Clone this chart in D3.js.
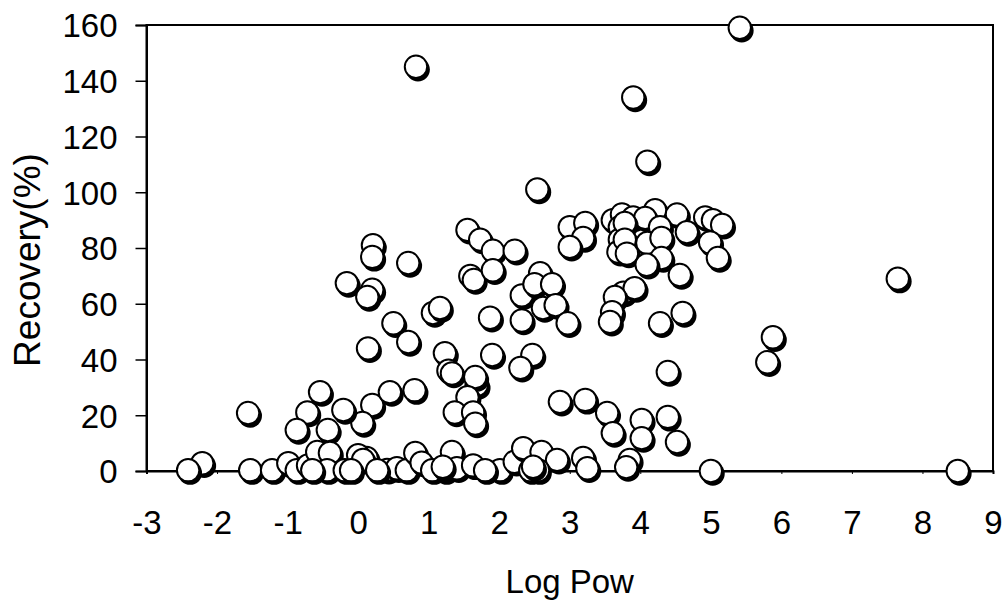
<!DOCTYPE html>
<html>
<head>
<meta charset="utf-8">
<script src="https://cdn.jsdelivr.net/npm/d3@7"></script>
<style>
  body { margin: 0; background: #fff; }
  .tick text { font-family: "Liberation Sans", Arial, sans-serif; }
</style>
</head>
<body>
<div id="chart"></div>
<script>
var xTicks = [-3, -2, -1, 0, 1, 2, 3, 4, 5, 6, 7, 8, 9];
var yTicks = [0, 20, 40, 60, 80, 100, 120, 140, 160];

// Log Pow (x) and Recovery % (y)
var logPow = [
  0.82, 5.41, 3.9, 4.1, 2.54, 7.65, 5.88, 5.8, 8.5, 5.0,
  1.55, 1.73, 1.91, 2.22, 1.59, 1.64, 1.91, 2.32, 2.58, 2.5,
  2.75, 2.62, 2.8, 2.97, 2.32, 1.87, 3.0, 3.22, 3.19, 3.0,
  3.61, 3.74, 3.71, 3.71, 3.69, 3.9, 3.76, 3.92, 3.64, 3.6,
  3.57, 1.9, 2.47, 2.3, 1.23, 1.28, 4.21, 4.52, 4.07, 4.28,
  4.66, 3.78, 3.78, 3.81, 4.1, 4.3, 4.3, 4.09, 4.56, 4.92,
  5.03, 5.16, 4.99, 5.1, 4.6, 4.28, 4.39, 0.21, 0.2, 0.71,
  -0.16, 0.2, 0.13, 1.06, 1.16, 0.5, 0.71, 0.14, 0.2, 0.45,
  0.8, 0.06, 1.33, 1.68, 1.66, 1.55, 1.37, 1.63, 1.66, 2.86,
  0.12, 0.41, 0.55, 0.69, 0.81, 0.9, 1.33, 1.23, 1.4, 1.63,
  2.01, 2.22, 2.34, 2.44, 2.6, 2.82, 2.55, 3.22, 3.53, 3.61,
  4.02, 4.02, 4.39, 4.52, 3.19, 3.25, 3.85, 3.8, -0.54, -1.56,
  -0.72, -0.21, -0.87, -0.43, -2.21, -2.41, -1.53, -1.22, -0.99, -0.87,
  -0.71, -0.58, -0.4, -0.44, -0.19, 0.0, 0.07, -0.65, -0.1, 0.27,
  1.05, 1.8, 2.48, 1.2
];
var recovery = [
  145, 159, 134, 111, 101, 69, 48, 39, 0, 0,
  86.5, 83, 79, 79, 70, 68.5, 72, 63, 71, 67,
  67, 58.5, 59.5, 53, 54, 55, 87.5, 89, 83.6, 80.4,
  90, 92, 87.5, 83, 78.6, 91, 64, 65.6, 62.4, 57,
  53.5, 41.6, 41.6, 37, 42.3, 36, 93.6, 92, 90.8, 87.5,
  85.7, 89, 83, 78, 81.8, 83.6, 76.4, 74, 70.3, 91,
  90, 88.3, 82, 76.4, 56.7, 53, 35.5, 81, 76.8, 74.6,
  67.4, 65, 62.4, 56.7, 58.5, 53, 46.3, 44, 23.7, 28.3,
  29, 17.2, 35, 30.8, 33.7, 26.5, 21, 21, 17, 24.8,
  4.7, 0.4, 1, 0.3, 6.5, 3, 6.8, 0.3, 1, 2,
  0.3, 3.3, 8.2, 0.3, 6.8, 4, 0.3, 25.5, 20.8, 13.6,
  18.3, 11.8, 19.4, 10.4, 4.7, 1, 4, 1.4, 28.3, 20.8,
  21, 21.9, 14.7, 14.7, 2.8, 0.3, 0.3, 0.3, 2.8, 0.3,
  2, 6.8, 6.5, 0.3, 0.3, 5.7, 4, 0.3, 0.3, 0.3,
  0.3, 0.3, 1.5, 1.5
];

var width = 1006, height = 606;
var margin = {top: 25, right: 13, bottom: 135, left: 146.5};
var fontFamily = "'Liberation Sans', Arial, sans-serif";

var svg = d3.select("#chart")
  .append("svg")
  .attr("width", width)
  .attr("height", height);

var x = d3.scaleLinear()
  .domain([-3, 9])
  .range([margin.left, width - margin.right]);
var y = d3.scaleLinear()
  .domain([0, 160])
  .range([height - margin.bottom, margin.top]);

// frame (top and right edges)
svg.append("rect")
  .attr("x", x(-3))
  .attr("y", y(160))
  .attr("width", x(9) - x(-3))
  .attr("height", y(0) - y(160))
  .attr("fill", "none")
  .attr("stroke", "#000")
  .attr("stroke-width", 2);

// plain hyphen for negatives, like the original
var plainFormat = function(d) { return String(d); };

var yAxis = svg.append("g")
  .attr("transform", "translate(" + x(-3) + ",0)")
  .call(d3.axisLeft(y).tickValues(yTicks).tickFormat(plainFormat)
    .tickSize(11).tickPadding(18));

var xAxis = svg.append("g")
  .attr("transform", "translate(0," + y(0) + ")")
  .call(d3.axisBottom(x).tickValues(xTicks).tickFormat(plainFormat)
    .tickSize(3).tickPadding(40));

[yAxis, xAxis].forEach(function(g) {
  g.select(".domain").attr("stroke", "#000").attr("stroke-width", 2);
  g.selectAll(".tick line").attr("stroke", "#000").attr("stroke-width", 1.5);
  g.selectAll(".tick text")
    .attr("fill", "#000")
    .style("font-size", "33px");
});
xAxis.selectAll(".tick line").attr("stroke-width", 1);
xAxis.selectAll(".tick text").attr("dy", "0.6em");
yAxis.selectAll(".tick text").attr("dy", "0.36em");

svg.append("text")
  .attr("x", (x(-3) + x(9)) / 2)
  .attr("y", 593)
  .attr("text-anchor", "middle")
  .style("font-family", fontFamily)
  .style("font-size", "33px")
  .text("Log Pow");

svg.append("text")
  .attr("transform", "translate(40," + (y(80) + 12) + ") rotate(-90)")
  .attr("text-anchor", "middle")
  .style("font-family", fontFamily)
  .style("font-size", "37px")
  .text("Recovery(%)");

var points = logPow.map(function(d, i) {
  return {x: d, y: recovery[i]};
});

var marks = svg.append("g")
  .selectAll("g.pt")
  .data(points)
  .enter()
  .append("g")
  .attr("class", "pt")
  .attr("transform", function(d) {
    return "translate(" + x(d.x) + "," + y(d.y) + ")";
  });

marks.append("circle")
  .attr("cx", 2)
  .attr("cy", 2.8)
  .attr("r", 11.9)
  .attr("fill", "#000");

marks.append("circle")
  .attr("r", 11.2)
  .attr("fill", "#fff")
  .attr("stroke", "#000")
  .attr("stroke-width", 2);
</script>
</body>
</html>
